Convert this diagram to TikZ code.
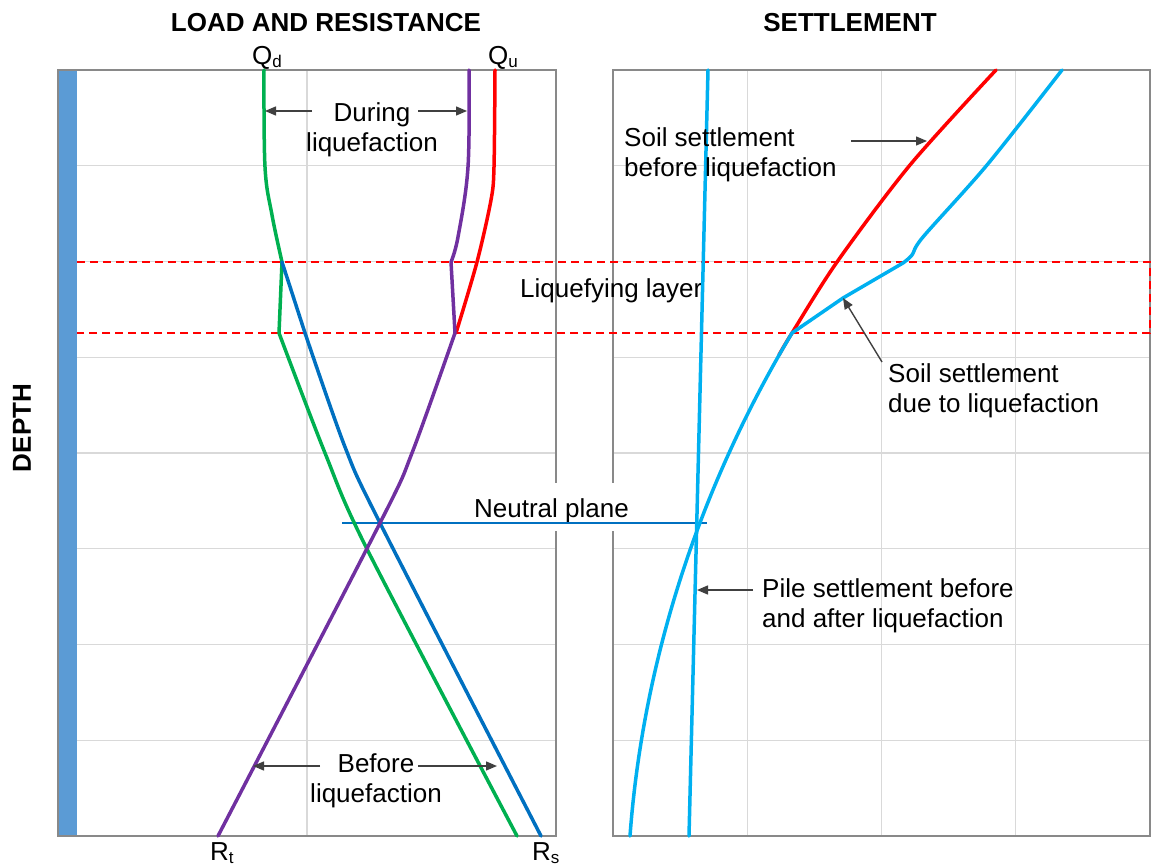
\documentclass[tikz,border=0pt]{standalone}
\usepackage{fontspec}
\setmainfont{Liberation Sans}
\usetikzlibrary{arrows.meta}

\definecolor{qgreen}{HTML}{00B050}
\definecolor{rblue}{HTML}{0070C0}
\definecolor{qpurple}{HTML}{7030A0}
\definecolor{sred}{HTML}{FF0000}
\definecolor{scyan}{HTML}{00B0F0}
\definecolor{pilebar}{HTML}{5B9BD5}
\definecolor{gridgray}{HTML}{D9D9D9}
\definecolor{framegray}{HTML}{898989}
\definecolor{calloutgray}{HTML}{404040}

% subscript in text font
\newcommand{\subtxt}[1]{\raisebox{-3pt}{\fontsize{17}{17}\selectfont #1}}

\tikzset{
  curve/.style={line width=3.5pt, line join=round, line cap=round},
  gridline/.style={gridgray, line width=1.3pt},
  frame/.style={framegray, line width=2pt},
  layer/.style={sred, line width=2pt, dash pattern=on 8pt off 5pt},
  callout/.style={calloutgray, line width=1.4pt, -{Triangle[length=11pt,width=9pt]}},
  lbl/.style={font=\fontsize{26}{30}\selectfont, inner sep=0pt},
  heading/.style={font=\fontsize{26}{30}\selectfont\bfseries, inner sep=0pt},
}

\begin{document}
\begin{tikzpicture}[x=1pt, y=-1pt]
\useasboundingbox (0,0) rectangle (1152,865);

% ---------- grids ----------
\foreach \yy in {165.75,261.5,357.25,453,548.75,644.5,740.25} {
  \draw[gridline] (77,\yy) -- (556,\yy);
  \draw[gridline] (613,\yy) -- (1150,\yy);
}
\draw[gridline] (307,70) -- (307,836);
\foreach \xx in {747.25,881.5,1015.75} {
  \draw[gridline] (\xx,70) -- (\xx,836);
}

% ---------- pile and frames ----------
\fill[pilebar] (58,70) rectangle (77,836);
\draw[frame] (58,70) rectangle (556,836);
\draw[frame] (613,70) rectangle (1150,836);

% ---------- liquefying layer ----------
\draw[layer] (77,262) -- (1150,262) -- (1150,333) -- (77,333);
\node[lbl, anchor=base west] (layerlbl) at (520,297) {Liquefying layer};

% ---------- neutral plane ----------
\node[lbl, anchor=base, fill=white, inner xsep=10pt, inner ysep=14pt,
      text height=20pt, text depth=0pt] (neutral) at (551.5,517) {Neutral plane};
\coordinate (npL) at (342,523);
\coordinate (npR) at (707,523);
\draw[rblue, line width=2pt] (npL) -- (npR);

% ---------- load and resistance curves ----------
\draw[curve, sred] plot[smooth] coordinates {(495,70) (494,167) (491,200) (477,262) (456,333)};
\draw[curve, qgreen] plot[smooth, tension=0.6] coordinates {(264,70) (265,167) (272,215) (282,262)}
   -- (279,333) -- plot[smooth, tension=0.5] coordinates {(279,333) (325,453) (367,549) (517,836)};
\draw[curve, rblue] (282,262) -- (305,333)
   -- plot[smooth, tension=0.5] coordinates {(305,333) (345,447) (380,523) (541,836)};
\draw[curve, qpurple] plot[smooth, tension=0.6] coordinates {(469,70) (468,167) (458,237) (451,262)}
   -- (455,333) -- plot[smooth, tension=0.5] coordinates {(455,333) (412,453) (380,523) (218,836)};

% ---------- settlement curves ----------
\draw[curve, sred] plot[smooth] coordinates {(996,70) (910,165) (837,262) (792,333) (779,355)};
\draw[curve, scyan] plot[smooth, tension=0.5] coordinates {(1062,70) (987,165) (923,237) (912,255) (903,263)}
   -- (843,298) -- (792,333)
   .. controls (680,520) and (640,700) .. (630,836);
\draw[curve, scyan] (708,70) -- (689,836);

% ---------- headings ----------
\node[heading, anchor=base] (hload) at (326,31) {LOAD AND RESISTANCE};
\node[heading, anchor=base] (hsettle) at (850,31) {SETTLEMENT};
\node[heading, rotate=90] (hdepth) at (22,428) {DEPTH};

% ---------- end labels ----------
\node[lbl, anchor=base west] (qd) at (252,64) {Q\subtxt{d}};
\node[lbl, anchor=base west] (qu) at (488,64) {Q\subtxt{u}};
\node[lbl, anchor=base west] (rt) at (210,860) {R\subtxt{t}};
\node[lbl, anchor=base west] (rs) at (532,860) {R\subtxt{s}};

% ---------- annotations ----------
\node[lbl, align=center] (during) at (372,130) {During\\liquefaction};
\coordinate (duringL) at (312,111);
\coordinate (duringLtip) at (265,111);
\coordinate (duringR) at (418,111);
\coordinate (duringRtip) at (467,111);
\draw[callout] (duringL) -- (duringLtip);
\draw[callout] (duringR) -- (duringRtip);

\node[lbl, align=center] (before) at (376,781) {Before\\liquefaction};
\coordinate (beforeL) at (320,766);
\coordinate (beforeLtip) at (253,766);
\coordinate (beforeR) at (418,766);
\coordinate (beforeRtip) at (497,766);
\draw[callout] (beforeL) -- (beforeLtip);
\draw[callout] (beforeR) -- (beforeRtip);

\node[lbl, align=left, anchor=west] (soilbefore) at (624,155) {Soil settlement\\before liquefaction};
\coordinate (sbTail) at (851,141);
\coordinate (sbTip) at (927,141);
\draw[callout] (sbTail) -- (sbTip);

\node[lbl, align=left, anchor=west] (soildue) at (888,391) {Soil settlement\\due to liquefaction};
\coordinate (sdTail) at (882,362);
\coordinate (sdTip) at (843,298);
\draw[callout] (sdTail) -- (sdTip);

\node[lbl, align=left, anchor=west] (pile) at (762,606) {Pile settlement before\\and after liquefaction};
\coordinate (pTail) at (753,590);
\coordinate (pTip) at (697,590);
\draw[callout] (pTail) -- (pTip);

\end{tikzpicture}
\end{document}
